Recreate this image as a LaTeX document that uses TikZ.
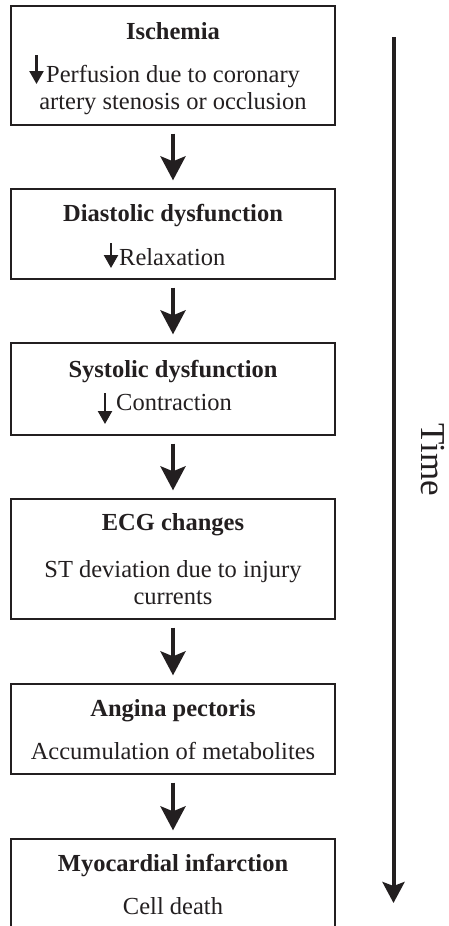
\documentclass[tikz,border=0pt]{standalone}
\usepackage{fontspec}
\setmainfont{Liberation Serif}
\usetikzlibrary{arrows.meta}
\definecolor{ink}{HTML}{231F20}
\begin{document}
\begin{tikzpicture}[x=1pt,y=-1pt,
  box/.style={draw=ink, line width=1.3pt, inner sep=0pt, minimum width=324pt},
  txt/.style={text=ink, inner sep=0pt, anchor=base, font=\fontsize{24.5}{28}\selectfont},
  head/.style={txt, font=\fontsize{24.5}{28}\selectfont\bfseries},
  conn/.style={draw=ink, line width=4.2pt, shorten <=8pt, shorten >=8pt,
    -{Stealth[length=24pt,width=25pt,inset=5pt]}},
  minarr/.style={draw=ink, line width=2.4pt, -{Triangle[length=13pt,width=14pt]}},
  timearr/.style={draw=ink, line width=4pt, -{Stealth[length=21pt,width=22pt,inset=4pt]}}]
\clip (0,0) rectangle (448,926);
\useasboundingbox (0,0) rectangle (448,926);
\fill[white] (0,0) rectangle (448,926);

% boxes
\node[box, minimum height=119pt] (b1) at (173,65.5) {};
\node[box, minimum height=90pt]  (b2) at (173,234) {};
\node[box, minimum height=92pt]  (b3) at (173,389) {};
\node[box, minimum height=120pt] (b4) at (173,559) {};
\node[box, minimum height=90pt]  (b5) at (173,729) {};
\node[box, minimum height=110pt] (b6) at (173,894) {};

% texts
\node[head] (h1) at (173,39) {Ischemia};
\node[txt, anchor=base west] (l1a) at (46,82) {Perfusion due to coronary};
\node[txt] (l1b) at (173,109) {artery stenosis or occlusion};

\node[head] (h2) at (173,221) {Diastolic dysfunction};
\node[txt, anchor=base west] (l2) at (119,265) {Relaxation};

\node[head] (h3) at (173,377) {Systolic dysfunction};
\node[txt, anchor=base west] (l3) at (116,410) {Contraction};

\node[head] (h4) at (173,530) {ECG changes};
\node[txt] (l4a) at (173,577) {ST deviation due to injury};
\node[txt] (l4b) at (173,604) {currents};

\node[head] (h5) at (173,716) {Angina pectoris};
\node[txt] (l5) at (173,759) {Accumulation of metabolites};

\node[head] (h6) at (173,871) {Myocardial infarction};
\node[txt] (l6) at (173,914) {Cell death};

% small decrease arrows
\coordinate (d1a) at (36.5,55);  \coordinate (d1b) at (36.5,84);
\coordinate (d2a) at (111,243);  \coordinate (d2b) at (111,268);
\coordinate (d3a) at (105,393);  \coordinate (d3b) at (105,424);
\draw[minarr] (d1a) -- (d1b);
\draw[minarr] (d2a) -- (d2b);
\draw[minarr] (d3a) -- (d3b);

% connectors
\draw[conn] (b1.south) -- (b2.north);
\draw[conn] (b2.south) -- (b3.north);
\draw[conn] (b3.south) -- (b4.north);
\draw[conn] (b4.south) -- (b5.north);
\draw[conn] (b5.south) -- (b6.north);

% time axis
\coordinate (ts) at (393.5,37);
\coordinate (te) at (393.5,903);
\draw[timearr] (ts) -- (te);
\node[txt, font=\fontsize{35}{40}\selectfont, rotate=-90] (time) at (421,459.5) {Time};
\end{tikzpicture}
\end{document}
